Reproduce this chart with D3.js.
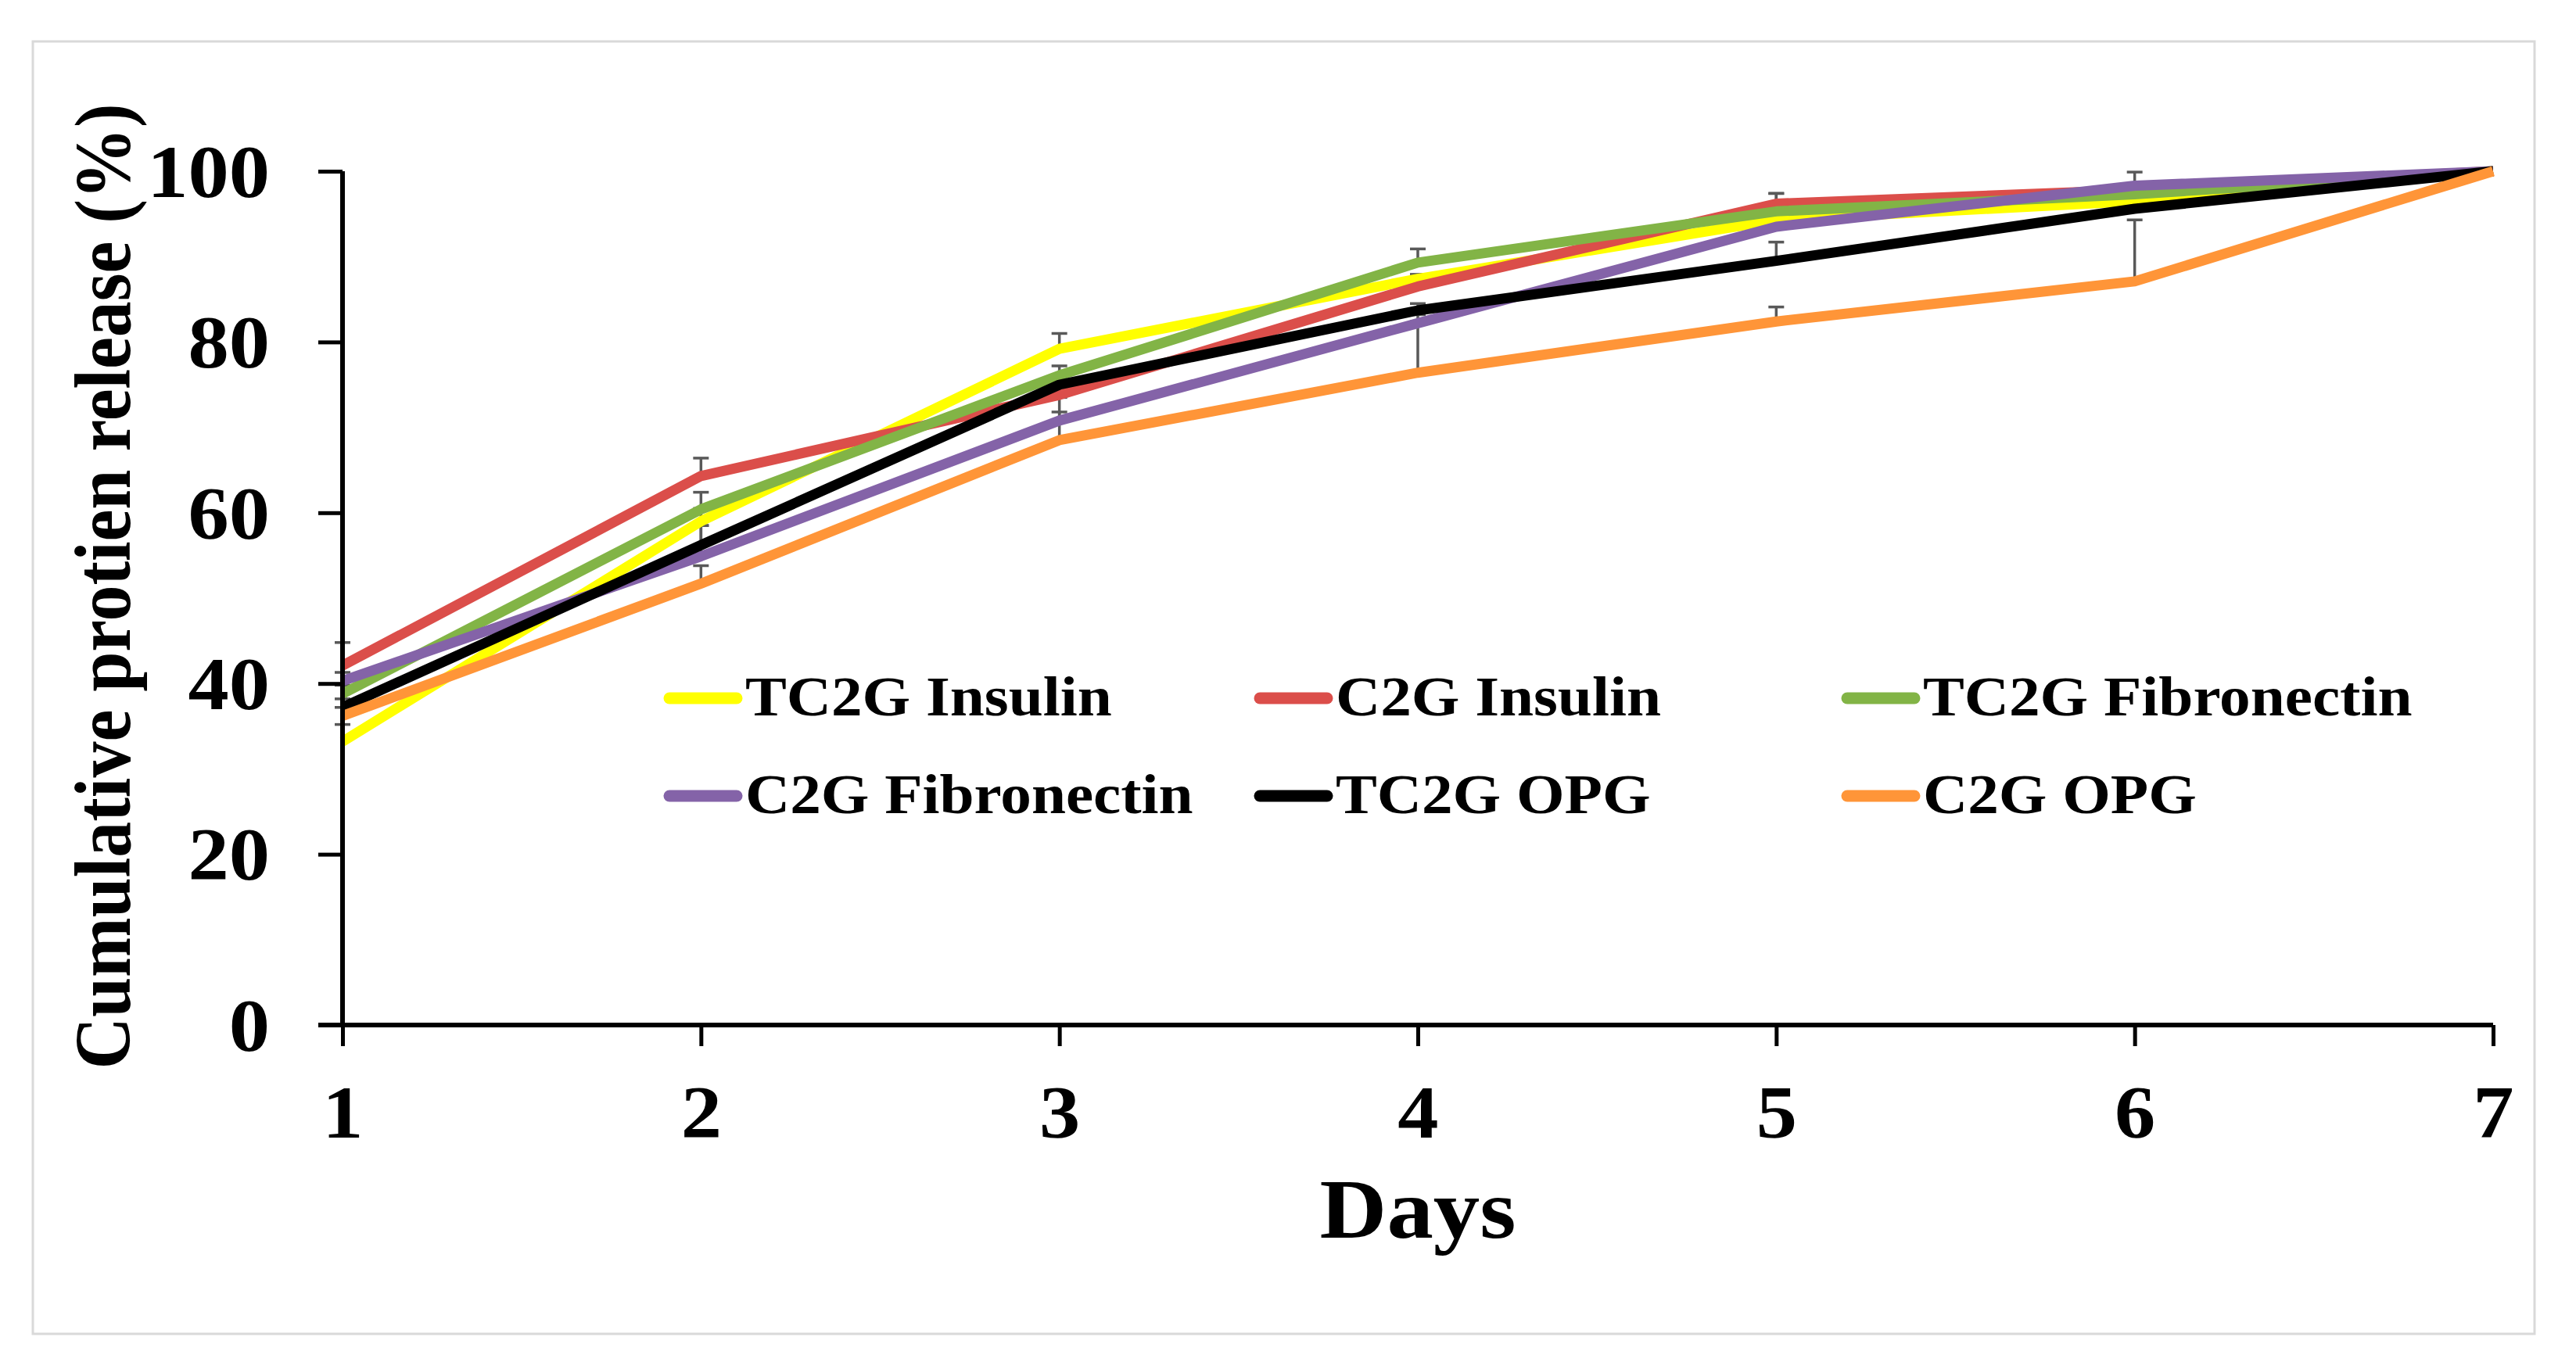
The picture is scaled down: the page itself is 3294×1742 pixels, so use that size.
<!DOCTYPE html>
<html>
<head>
<meta charset="utf-8">
<script src="https://cdn.jsdelivr.net/npm/d3@7/dist/d3.min.js"></script>
<style>
  html, body { margin: 0; padding: 0; background: #fff; }
  svg { display: block; }
  text { font-family: "Liberation Serif", "Times New Roman", serif; font-weight: bold; fill: #000; }
</style>
</head>
<body>
<script>
// ---- data ----
const days = [1, 2, 3, 4, 5, 6, 7];
const yTicks = [0, 20, 40, 60, 80, 100];
const seriesNames = ["TC2G Insulin", "C2G Insulin", "TC2G Fibronectin", "C2G Fibronectin", "TC2G OPG", "C2G OPG"];
const seriesColors = ["#FFFF00", "#DB4E4A", "#82B446", "#8463A8", "#000000", "#FF9538"];
const tc2gInsulin      = [33.2, 59.0, 79.2, 87.4, 94.3, 96.5, 100];
const c2gInsulin       = [42.1, 64.3, 73.8, 86.5, 96.2, 97.8, 100];
const tc2gFibronectin  = [38.8, 60.4, 76.1, 89.3, 95.3, 97.3, 100];
const c2gFibronectin   = [40.3, 54.9, 70.8, 82.2, 93.5, 98.3, 100];
const tc2gOPG          = [37.2, 56.2, 75.0, 83.7, 89.5, 95.6, 100];
const c2gOPG           = [36.2, 51.7, 68.5, 76.4, 82.4, 87.1, 100];
// plus-direction error bars
const errTc2gInsulin     = [2.0, 1.5, 1.8, 0.5, 0.5, 0.5, 0];
const errC2gInsulin      = [2.7, 2.1, 1.0, 1.4, 1.2, 0.5, 0];
const errTc2gFibronectin = [1.0, 2.0, 1.1, 1.6, 2.1, 0.5, 0];
const errC2gFibronectin  = [1.0, 3.6, 1.0, 1.0, 0.5, 1.6, 0];
const errTc2gOPG         = [1.0, 2.3, 1.0, 0.8, 2.2, 0.5, 0];
const errC2gOPG          = [1.0, 2.1, 5.0, 6.0, 1.7, 7.2, 0];

const seriesValues = [tc2gInsulin, c2gInsulin, tc2gFibronectin, c2gFibronectin, tc2gOPG, c2gOPG];
const seriesErrors = [errTc2gInsulin, errC2gInsulin, errTc2gFibronectin, errC2gFibronectin, errTc2gOPG, errC2gOPG];
const series = seriesNames.map((n, i) => ({
  name: n, color: seriesColors[i],
  points: days.map((d, j) => ({ day: d, v: seriesValues[i][j], e: seriesErrors[i][j] }))
}));

// ---- layout ----
const W = 3294, H = 1742;
const plot = { left: 438, right: 3188, top: 219, bottom: 1311 };
const SX = 1.1; // horizontal stretch of the type in the original figure

const svg = d3.select("body").append("svg").attr("width", W).attr("height", H);
svg.append("rect").attr("width", W).attr("height", H).attr("fill", "#fff");

// outer frame
svg.append("rect").attr("x", 42).attr("y", 53).attr("width", 3241 - 42).attr("height", 1706 - 53)
  .attr("fill", "none").attr("stroke", "#d9d9d9").attr("stroke-width", 3);

const x = d3.scaleLinear().domain([1, 7]).range([plot.left, plot.right]);
const y = d3.scaleLinear().domain([0, 100]).range([plot.bottom, plot.top]);

// error bars (beneath lines)
const eb = svg.append("g").attr("stroke", "#595959").attr("stroke-width", 3.5);
series.forEach(s => {
  s.points.filter(p => p.e > 0).forEach(p => {
    eb.append("line").attr("x1", x(p.day)).attr("x2", x(p.day)).attr("y1", y(p.v)).attr("y2", y(p.v + p.e));
    eb.append("line").attr("x1", x(p.day) - 10).attr("x2", x(p.day) + 10).attr("y1", y(p.v + p.e)).attr("y2", y(p.v + p.e));
  });
});

// lines
const line = d3.line().x(p => x(p.day)).y(p => y(p.v));
svg.append("g").selectAll("path").data(series).join("path")
  .attr("d", s => line(s.points))
  .attr("fill", "none")
  .attr("stroke", s => s.color)
  .attr("stroke-width", 13)
  .attr("stroke-linejoin", "round");

// axes
const yAxis = d3.axisLeft(y).tickValues(yTicks).tickSize(31).tickPadding(62).tickSizeOuter(0);
const gy = svg.append("g").attr("transform", `translate(${plot.left},0)`).call(yAxis);
gy.select(".domain").attr("stroke", "#000").attr("stroke-width", 6).attr("d", `M0,${plot.bottom + 3}V${plot.top}`);
gy.selectAll(".tick line").attr("stroke", "#000").attr("stroke-width", 5);
gy.selectAll(".tick text").style("font-size", "95px").attr("dy", "0.34em")
  .attr("x", 0).attr("transform", `translate(-93,0) scale(${SX},1)`);

const xAxis = d3.axisBottom(x).tickValues(days).tickFormat(d3.format("d")).tickSize(27).tickPadding(50).tickSizeOuter(0);
const gx = svg.append("g").attr("transform", `translate(0,${plot.bottom})`).call(xAxis);
gx.select(".domain").attr("stroke", "#000").attr("stroke-width", 6).attr("d", `M${plot.left - 31},0H${plot.right}`);
gx.selectAll(".tick line").attr("stroke", "#000").attr("stroke-width", 5);
gx.selectAll(".tick text").style("font-size", "95px").attr("dy", "0.71em")
  .attr("transform", `scale(${SX},1)`);

// axis titles
svg.append("text").attr("transform", `translate(${x(4)},1583) scale(${SX},1)`).attr("text-anchor", "middle")
  .style("font-size", "108px").text("Days");
svg.append("text").attr("transform", `translate(166,750) rotate(-90) scale(1,${SX})`).attr("text-anchor", "middle")
  .style("font-size", "93px").attr("textLength", 1235).attr("lengthAdjust", "spacingAndGlyphs")
  .text("Cumulative protien release (%)");

// legend
const legCols = [849, 1604, 2355];
const legRows = [893, 1018];
const leg = svg.append("g");
series.forEach((s, i) => {
  const cx = legCols[i % 3], cy = legRows[Math.floor(i / 3)];
  leg.append("line").attr("x1", cx + 7).attr("x2", cx + 93).attr("y1", cy).attr("y2", cy)
    .attr("stroke", s.color).attr("stroke-width", 15).attr("stroke-linecap", "round");
  leg.append("text").attr("transform", `translate(${cx + 104},${cy + 22}) scale(${SX},1)`)
    .style("font-size", "72px").text(s.name);
});
</script>
</body>
</html>
